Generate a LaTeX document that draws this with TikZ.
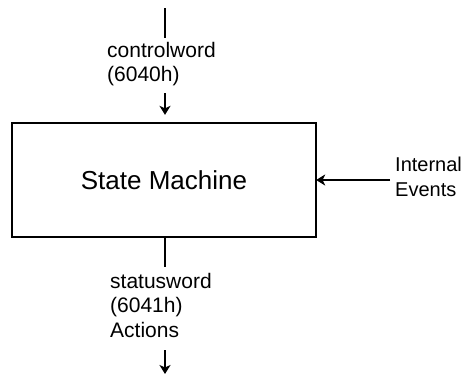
\documentclass[tikz,border=0pt]{standalone}
\usepackage{fontspec}
\setmainfont{Liberation Sans}
\usetikzlibrary{arrows.meta,calc}
\tikzset{
  line/.style={line width=2.3pt},
  arr/.style={line width=2.3pt,-{Stealth[length=9pt,width=11pt,inset=2.5pt]}},
  lbl/.style={font=\fontsize{21}{24.5}\selectfont, align=left, inner sep=0pt, anchor=north west},
  smbox/.style={draw, line width=2.3pt, minimum width=304pt, minimum height=114pt, inner sep=0pt, font=\fontsize{26}{30}\selectfont}
}
\begin{document}
\begin{tikzpicture}[x=1pt,y=-1pt]
\useasboundingbox (0,0) rectangle (465,376);
\node[smbox] (sm) at (164,180) {State Machine};
% top
\coordinate (t1) at (165,8);
\coordinate (t2) at (165,38);
\draw[line] (t1) -- (t2);
\node[lbl] (cw) at (107,42) {controlword\\(6040h)};
\coordinate (a1) at (165,93);
\draw[arr, shorten >=7pt] (a1) -- (a1 |- sm.north);
% bottom
\coordinate (b1) at (165,267);
\draw[line] (b1 |- sm.south) -- (b1);
\node[lbl] (sw) at (110,273) {statusword\\(6041h)\\Actions};
\coordinate (b2) at (165,350);
\coordinate (b3) at (165,374);
\draw[arr] (b2) -- (b3);
% right
\coordinate (r1) at (390,180);
\draw[arr, shorten >=-1pt] (r1) -- (sm.east |- r1);
\node[lbl, font=\fontsize{20}{24.5}\selectfont] (ie) at (395,157) {Internal\\Events};
\end{tikzpicture}
\end{document}
